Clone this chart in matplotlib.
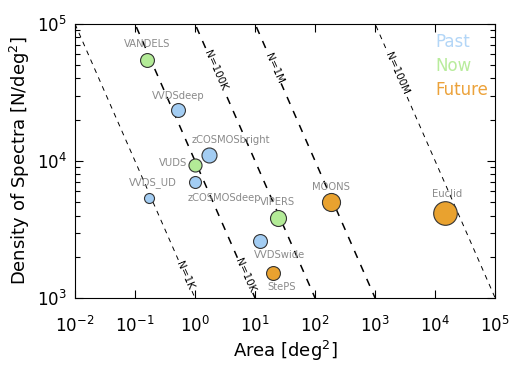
import numpy as np
import matplotlib
matplotlib.use("Agg")
import matplotlib.pyplot as plt
from matplotlib.ticker import NullLocator, NullFormatter, FixedLocator, LogFormatterMathtext

# surveys: area [deg^2], density [N/deg^2], epoch
nomes = ['VANDELS', 'VVDSdeep', 'zCOSMOSbright', 'VUDS', 'zCOSMOSdeep', 'VVDS_UD',
         'VIPERS', 'VVDSwide', 'StePS', 'MOONS', 'Euclid']
area = [0.16, 0.52, 1.7, 1.0, 1.0, 0.17, 24, 12, 20, 185, 1.47e4]
densidade = [5.5e4, 2.35e4, 1.1e4, 9.3e3, 7.0e3, 5.4e3, 3.85e3, 2.6e3, 1.52e3, 5.0e3, 4.2e3]
epoca = ['now', 'past', 'past', 'now', 'past', 'past', 'now', 'past', 'future', 'future', 'future']

# linhas de numero total constante
n_total = [1e3, 1e4, 1e5, 1e6, 1e8]
n_rotulos = ['N=1K', 'N=10K', 'N=100K', 'N=1M', 'N=100M']

# ticks
x_ticks = [1e-2, 1e-1, 1e0, 1e1, 1e2, 1e3, 1e4, 1e5]
y_ticks = [1e3, 1e4, 1e5]

cores = {'past': '#a3cdf3', 'now': '#b3eb97', 'future': '#e9a22f'}
tamanho = [10, 10, 10.8, 9.4, 8.6, 7.2, 11.5, 10, 10, 13, 17]
deslocamento = [(0, 11), (0, 10), (16, 11), (-6, 2), (21, -11), (3, 11),
                (0, 11.5), (14, -10), (6, -10), (0, 11), (1.5, 13.5)]
alinhamento = ['center', 'center', 'center', 'right', 'center', 'center',
               'center', 'center', 'center', 'center', 'center']
x_rotulo_linha = [0.68, 6.8, 2.2, 21, 2300]
largura_linha = [0.7, 1.1, 1.1, 1.1, 0.7]

fig = plt.figure(figsize=(5.1, 3.68), dpi=100)
ax = fig.add_axes([0.147, 0.19, 0.824, 0.745])
ax.set_xscale('log')
ax.set_yscale('log')
ax.set_xlim(1e-2, 1e5)
ax.set_ylim(1e3, 1e5)

# angulo na tela das linhas N = area * densidade
dx = 0.824 * 510 / 7
dy = 0.745 * 368 / 2
angulo = -np.degrees(np.arctan(dy / dx))

xs = np.logspace(-2, 5, 200)
for n, rot, xr, lw in zip(n_total, n_rotulos, x_rotulo_linha, largura_linha):
    ax.plot(xs, n / xs, ls=(0, (5, 5)), color='black', lw=lw, zorder=1)
    ax.text(xr, n / xr, rot, rotation=angulo, rotation_mode='anchor',
            ha='center', va='center', fontsize=7.5, color='black',
            bbox=dict(facecolor='white', edgecolor='none', pad=0.5), zorder=2)

for i in range(len(nomes)):
    ax.plot(area[i], densidade[i], 'o', ms=tamanho[i], mfc=cores[epoca[i]],
            mec='#333333', mew=0.8, zorder=3)
    ax.annotate(nomes[i], (area[i], densidade[i]), xytext=deslocamento[i],
                textcoords='offset points', ha=alinhamento[i], va='center',
                fontsize=7.2, color='#8a8a8a', zorder=4)

# legenda em texto
ax.text(0.857, 0.934, 'Past', transform=ax.transAxes, color='#b3d6f7', fontsize=12, va='center')
ax.text(0.857, 0.847, 'Now', transform=ax.transAxes, color='#b8ec9c', fontsize=12, va='center')
ax.text(0.857, 0.759, 'Future', transform=ax.transAxes, color='#eca23a', fontsize=12, va='center')

ax.xaxis.set_major_locator(FixedLocator(x_ticks))
ax.xaxis.set_minor_locator(NullLocator())
ax.yaxis.set_major_locator(FixedLocator(y_ticks))
minor_y = [m * 10.0**k for k in (3, 4) for m in range(2, 10)]
ax.yaxis.set_minor_locator(FixedLocator(minor_y))
ax.xaxis.set_major_formatter(LogFormatterMathtext())
ax.yaxis.set_major_formatter(LogFormatterMathtext())
ax.yaxis.set_minor_formatter(NullFormatter())
ax.tick_params(which='both', direction='in', top=True, right=True, labelsize=12)
ax.tick_params(axis='x', pad=13)
ax.tick_params(axis='y', pad=6)
ax.tick_params(which='major', length=6, width=0.8)
ax.tick_params(which='minor', length=3.5, width=0.8)

ax.set_xlabel('Area [deg$^2$]', fontsize=13, labelpad=2)
ax.set_ylabel('Density of Spectra [N/deg$^2$]', fontsize=13, labelpad=3)

fig.savefig('out.png', dpi=100)
